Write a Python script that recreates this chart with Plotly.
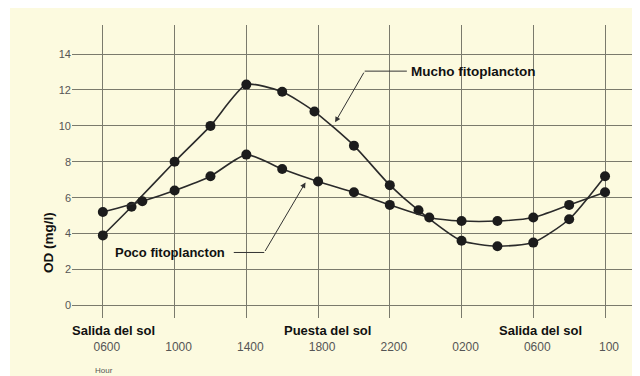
import plotly.graph_objects as go

# ---- data ----
hours_mucho = [0, 1.6, 4, 6, 8, 10, 11.8, 14, 16, 17.6, 20, 22, 24, 26, 28]
od_mucho = [3.9, 5.5, 8.0, 10.0, 12.3, 11.9, 10.8, 8.9, 6.7, 5.3, 3.6, 3.3, 3.5, 4.8, 7.2]

hours_poco = [0, 2.2, 4, 6, 8, 10, 12, 14, 16, 18.2, 20, 22, 24, 26, 28]
od_poco = [5.2, 5.8, 6.4, 7.2, 8.4, 7.6, 6.9, 6.3, 5.6, 4.9, 4.7, 4.7, 4.9, 5.6, 6.3]

x_tickvals = [0, 4, 8, 12, 16, 20, 24, 28]
x_ticktext = ["0600", "1000", "1400", "1800", "2200", "0200", "0600", "100"]
y_tickvals = [0, 2, 4, 6, 8, 10, 12, 14]

label_mucho = "Mucho fitoplancton"
label_poco = "Poco fitoplancton"
y_title = "OD (mg/l)"
x_title = "Hour"
sun_labels = ["Salida del sol", "Puesta del sol", "Salida del sol"]
sun_label_hours = [0.6, 12.5, 24.4]

# ---- style ----
CREAM = "#FCFADF"
GRID = "#7a7a6c"
INK = "#1c1c1c"
OFF = 8  # page body margin
W, H = 640 - OFF, 376 - OFF
L, R, T, B = 72 - OFF, 0, 25 - OFF, 58
PW, PH = W - L - R, H - T - B


def px_x(px):
    return (px - OFF - L) / PW


def px_y(py):
    return (H - B - (py - OFF)) / PH


fig = go.Figure()
for xs, ys in [(hours_mucho, od_mucho), (hours_poco, od_poco)]:
    fig.add_trace(go.Scatter(
        x=xs, y=ys, mode="lines+markers",
        line=dict(color="#2a2a2a", width=1.6, shape="spline", smoothing=0.6),
        marker=dict(size=10, color=INK),
        showlegend=False, hoverinfo="skip",
    ))

bold = dict(family="Liberation Sans, Arial, sans-serif", size=13, color="#111111")

annotations = [
    dict(x=17.05, y=13.05, xref="x", yref="y", text="<b>" + label_mucho + "</b>",
         showarrow=False, xanchor="left", yanchor="middle", font=dict(bold, size=13.5)),
    dict(x=6.9, y=2.95, xref="x", yref="y", text="<b>" + label_poco + "</b>",
         showarrow=False, xanchor="right", yanchor="middle", font=bold),
    dict(x=12.95, y=10.2, ax=14.6, ay=13.05, xref="x", yref="y", axref="x", ayref="y",
         text="", showarrow=True, arrowhead=2, arrowsize=1.1, arrowwidth=1, arrowcolor="#333"),
    dict(x=11.3, y=6.85, ax=9.0, ay=2.95, xref="x", yref="y", axref="x", ayref="y",
         text="", showarrow=True, arrowhead=2, arrowsize=1.1, arrowwidth=1, arrowcolor="#333"),
    dict(x=px_x(39), y=px_y(275), xref="paper", yref="paper", text="<b>" + y_title + "</b>",
         showarrow=False, textangle=-90, font=dict(bold, size=13.5)),
    dict(x=px_x(93), y=px_y(364), xref="paper", yref="paper", text=x_title,
         showarrow=False, xanchor="left", yanchor="top",
         font=dict(family="Liberation Sans, Arial, sans-serif", size=8, color="#555")),
]
for txt, hx in zip(sun_labels, sun_label_hours):
    annotations.append(dict(x=hx, y=px_y(330), xref="x", yref="paper",
                            text="<b>" + txt + "</b>", showarrow=False,
                            xanchor="center", yanchor="middle", font=bold))

shapes = [
    dict(type="rect", xref="paper", yref="paper", x0=px_x(10), x1=px_x(641),
         y0=px_y(377), y1=px_y(7), fillcolor=CREAM, line=dict(width=0), layer="below"),
    dict(type="line", xref="x", yref="y", x0=14.6, x1=16.95, y0=13.05, y1=13.05,
         line=dict(color="#333", width=1)),
    dict(type="line", xref="x", yref="y", x0=7.3, x1=9.0, y0=2.95, y1=2.95,
         line=dict(color="#333", width=1)),
]

fig.update_layout(
    width=W, height=H,
    margin=dict(l=L, r=R, t=T, b=B),
    paper_bgcolor="white", plot_bgcolor=CREAM,
    annotations=annotations, shapes=shapes,
    xaxis=dict(range=[-1.72, 29.95], tickvals=x_tickvals, ticktext=x_ticktext,
               showgrid=True, gridcolor=GRID, gridwidth=1, zeroline=False,
               showline=False, ticks="", ticklabelstandoff=20, ticklabelshift=4,
               tickfont=dict(family="Liberation Sans, Arial, sans-serif", size=12, color="#555")),
    yaxis=dict(range=[-0.70, 15.62], tickvals=y_tickvals,
               showgrid=True, gridcolor=GRID, gridwidth=1, zeroline=False,
               showline=False, ticks="",
               tickfont=dict(family="Liberation Sans, Arial, sans-serif", size=11, color="#555")),
)

fig.write_html("out.html")
